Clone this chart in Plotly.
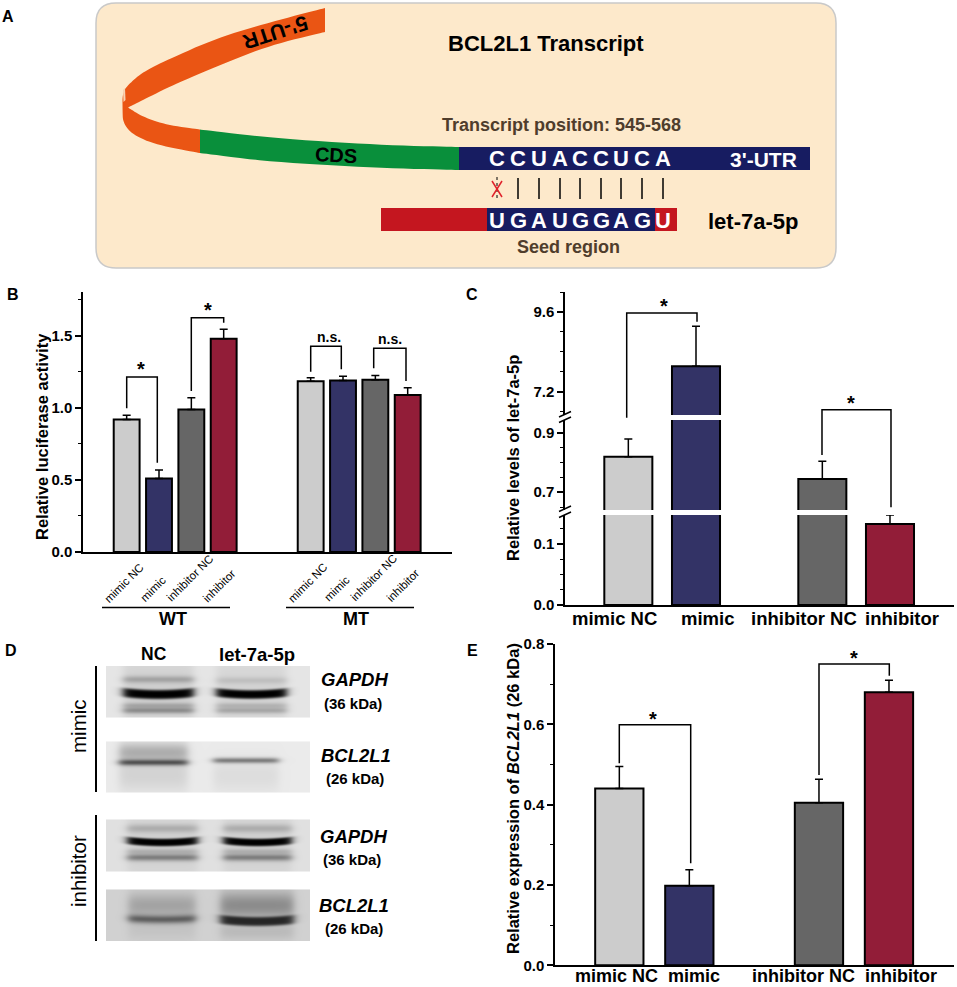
import numpy as np
import plotly.graph_objects as go

W, H = 957, 987

BLACK = "#000000"
BROWN = "#4f3d2c"
NAVY = "#171c61"
RED = "#c4161f"
ORANGE = "#ea5514"
GREEN = "#098f3b"
BAR_COLORS = ["#cccccc", "#333366", "#666666", "#921d38"]

# panel B
B_POS = [1, 2, 3, 4, 6.69, 7.69, 8.69, 9.69]
B_VALUES = [0.92, 0.51, 0.99, 1.48, 1.185, 1.19, 1.195, 1.09]
B_ERRORS = [0.03, 0.06, 0.08, 0.066, 0.025, 0.03, 0.03, 0.05]
B_COLORS = BAR_COLORS * 2
B_LABELS = ["mimic NC", "mimic", "inhibitor NC", "inhibitor"]

# panel C
C_POS = [1, 2, 3.867, 4.867]
C_VALUES = [0.82, 7.97, 0.745, 0.133]
C_ERRORS = [0.06, 1.2, 0.06, 0.015]

# panel E
E_POS = [1, 2, 3.852, 4.852]
E_VALUES = [0.44, 0.198, 0.405, 0.68]
E_ERRORS = [0.055, 0.04, 0.058, 0.03]

GROUP_LABELS = ["mimic NC", "mimic", "inhibitor NC", "inhibitor"]

# panel A
TARGET_SEQ = list("CCUACCUCA")
MIRNA_SEQ = list("UGAUGGAGU")
SEQ_X = [497, 518, 539, 560, 580, 601, 621, 642, 663]


def px(x):
    return x / W


def py(y):
    return 1 - y / H


def path_from(points, close=True):
    parts = [f"{'M' if i == 0 else 'L'}{px(x):.5f},{py(y):.5f}" for i, (x, y) in enumerate(points)]
    return " ".join(parts) + (" Z" if close else "")


def smooth(points, rounds=3):
    # corner cutting so the ribbon edges do not look polygonal
    pts = list(points)
    for _ in range(rounds):
        out = [pts[0]]
        for a, b in zip(pts[:-1], pts[1:]):
            out.append((0.75 * a[0] + 0.25 * b[0], 0.75 * a[1] + 0.25 * b[1]))
            out.append((0.25 * a[0] + 0.75 * b[0], 0.25 * a[1] + 0.75 * b[1]))
        out.append(pts[-1])
        pts = out
    return pts


shapes = []
notes = []


def poly(points, fill, line=None, width=0):
    shapes.append(dict(type="path", xref="paper", yref="paper", path=path_from(points),
                       fillcolor=fill, line=dict(color=line or fill, width=width)))


def seg(x0, y0, x1, y1, color=BLACK, width=1.5, dash="solid"):
    shapes.append(dict(type="line", xref="paper", yref="paper",
                       x0=px(x0), y0=py(y0), x1=px(x1), y1=py(y1),
                       line=dict(color=color, width=width, dash=dash)))


def rect(x0, y0, x1, y1, fill):
    shapes.append(dict(type="rect", xref="paper", yref="paper",
                       x0=px(x0), y0=py(y0), x1=px(x1), y1=py(y1),
                       fillcolor=fill, line=dict(width=0)))


def bracket(xl, xr, top, yl, yr):
    shapes.append(dict(type="path", xref="paper", yref="paper",
                       path=path_from([(xl, yl), (xl, top), (xr, top), (xr, yr)], close=False),
                       line=dict(color=BLACK, width=1.5)))


def note(text, x, y, size=15, color=BLACK, weight=700, angle=0, style="normal"):
    notes.append(dict(text=text, xref="paper", yref="paper", x=px(x), y=py(y),
                      xanchor="center", yanchor="middle", showarrow=False, textangle=angle,
                      font=dict(family="Liberation Sans", size=size, color=color,
                                weight=weight, style=style)))


# ── Panel A: transcript schematic ────────────────────────────────────────────
r = 20
x0, x1, y0, y1 = 96, 836, 3, 268
shapes.append(dict(
    type="path", xref="paper", yref="paper", fillcolor="#fde9cb",
    line=dict(color="#c9c9c9", width=1.5),
    path=(f"M{px(x0 + r)},{py(y0)} L{px(x1 - r)},{py(y0)} Q{px(x1)},{py(y0)} {px(x1)},{py(y0 + r)} "
          f"L{px(x1)},{py(y1 - r)} Q{px(x1)},{py(y1)} {px(x1 - r)},{py(y1)} "
          f"L{px(x0 + r)},{py(y1)} Q{px(x0)},{py(y1)} {px(x0)},{py(y1 - r)} "
          f"L{px(x0)},{py(y0 + r)} Q{px(x0)},{py(y0)} {px(x0 + r)},{py(y0)} Z"),
))
outer_edge = [(325, 8), (271, 22), (217, 38), (167, 60), (143, 72), (130, 83), (122.5, 92), (122.5, 110),
              (123, 123), (133, 135), (157, 145), (200, 153)]
cusp_lower = [(200, 129.5), (167, 125), (143, 117), (128, 107.5)]
cusp_upper = [(128, 107.5), (143, 100), (173, 85), (220, 65), (271, 45), (325, 32)]
poly(smooth(outer_edge) + smooth(cusp_lower) + smooth(cusp_upper), ORANGE)
poly([(123, 90), (125, 88), (125.5, 100), (123.5, 102)], "#f8d3b4")
poly(smooth([(200, 129.5), (271, 138), (379, 145), (459, 147)]) +
     smooth([(459, 170), (379, 168), (271, 162), (200, 153)]), GREEN)
rect(459, 147, 810, 170, NAVY)
rect(381, 208, 677, 231, RED)
rect(487, 208, 655, 231, NAVY)

for letter, x in zip(TARGET_SEQ, SEQ_X):
    note(letter, x, 158, size=22, color="white")
for letter, x in zip(MIRNA_SEQ, SEQ_X):
    note(letter, x, 220, size=22, color="white")
for x in SEQ_X[1:]:
    seg(x, 178, x, 199, width=1.5)
seg(SEQ_X[0], 177, SEQ_X[0], 200, width=1, dash="dot")
seg(SEQ_X[0] - 5, 181, SEQ_X[0] + 5, 197, color="#e0202a", width=1.5)
seg(SEQ_X[0] + 5, 181, SEQ_X[0] - 5, 197, color="#e0202a", width=1.5)

note("BCL2L1 Transcript", 546, 44, size=22)
note("Transcript position: 545-568", 561, 125, size=18, color=BROWN)
note("5'-UTR", 276, 33, size=21, angle=162)
note("CDS", 336, 155, size=20, angle=3)
note("3'-UTR", 763, 159, size=21, color="white")
note("let-7a-5p", 753, 221, size=22)
note("Seed region", 568, 247, size=18, color=BROWN)

# ── Panel letters ────────────────────────────────────────────────────────────
for letter, x, y in [("A", 8, 16), ("B", 13, 294), ("C", 472, 294), ("D", 11, 650), ("E", 472, 650)]:
    note(letter, x, y, size=16)

# ── Panel B annotations ──────────────────────────────────────────────────────
bracket(126.7, 157.3, 377, 408.3, 462.7)
bracket(191.3, 223.7, 317.7, 391, 322.7)
bracket(310.7, 341.3, 346.3, 371.7, 369.3)
bracket(373.7, 406, 348.3, 368.3, 381)
note("*", 141, 369, size=20)
note("*", 207.7, 310, size=20)
note("n.s.", 328.7, 337, size=14)
note("n.s.", 390, 339, size=14)
note("Relative luciferase activity", 42, 437, size=16.5, angle=-90)
label_x = [124, 153, 190, 219]
label_y = [583, 589, 578, 586]
for shift in (0, 183.5):
    for text, x, y in zip(B_LABELS, label_x, label_y):
        note(text, x + shift, y, size=11.5, weight=400, angle=-45)
seg(102, 607.5, 230, 607.5)
seg(286, 607.5, 414, 607.5)
note("WT", 173, 619, size=18)
note("MT", 356, 619, size=18)

# ── Panel C annotations ──────────────────────────────────────────────────────
bracket(626.7, 697, 313, 417.7, 321.7)
bracket(822, 891, 409.7, 455, 507.3)
note("*", 663.7, 306, size=20)
note("*", 851, 403, size=20)
note("Relative levels of let-7a-5p", 513, 458, size=16.5, angle=-90)
for text, x in zip(GROUP_LABELS, [614, 707, 804, 902]):
    note(text, x, 618, size=18.5)
for ytop in (411.5, 417, 506, 512):
    seg(559, ytop + 5.5, 571, ytop, width=1.5)

# ── Panel E annotations ──────────────────────────────────────────────────────
bracket(619.3, 690.7, 724.7, 763.3, 863.3)
bracket(819, 889.3, 664, 775, 675.7)
note("*", 653.3, 719, size=20)
note("*", 853.7, 658, size=20)
note("Relative expression of <i>BCL2L1</i> (26 kDa)", 513, 799, size=16.5, angle=-90)
for text, x in zip(GROUP_LABELS, [616, 694, 803, 901]):
    note(text, x, 976, size=18)

# ── Panel D labels ───────────────────────────────────────────────────────────
note("NC", 154, 654, size=17.5)
note("let-7a-5p", 257, 654, size=18.5)
seg(96, 666, 96, 792, width=2)
seg(96, 815, 96, 941, width=2)
note("mimic", 78, 726, size=20.5, weight=400, angle=-90)
note("inhibitor", 78, 871, size=20.5, weight=400, angle=-90)
for name, x, y in [("GAPDH", 354, 679), ("BCL2L1", 356, 755), ("GAPDH", 353, 836), ("BCL2L1", 354, 905)]:
    note(name, x, y, size=18.5, style="italic")
for name, x, y in [("(36 kDa)", 353, 703), ("(26 kDa)", 355, 778), ("(36 kDa)", 352, 859), ("(26 kDa)", 354, 928)]:
    note(name, x, y, size=15)


def blot(top, bottom, bg, bands):
    # the blots are photographs, so they are painted as soft grey bands
    xs = np.arange(106, 311)
    ys = np.arange(top, bottom + 1)
    gx, gy = np.meshgrid(xs, ys)
    z = np.full(gx.shape, bg, dtype=float)
    for xl, xr, yc, sigma, dark, power, curve in bands:
        edge = 1 / (1 + np.exp((xl - gx) / 2.5)) * 1 / (1 + np.exp((gx - xr) / 2.5))
        u = (gx - (xl + xr) / 2) / ((xr - xl) / 2)
        d = np.abs(gy - (yc - curve * u ** 2)) / sigma
        z *= 1 - dark * np.exp(-(d ** power) / 2) * edge
    return go.Heatmap(x=xs, y=ys, z=z, zmin=0, zmax=1, showscale=False, hoverinfo="skip",
                      colorscale=[[0, "#000000"], [1, "#ffffff"]], xaxis="x4", yaxis="y6")


BLOTS = [
    (666, 717, 0.90, [(123, 193, 692, 30, 0.1, 2, 0), (123, 193, 679, 2.5, 0.22, 2, 0), (123, 193, 694, 4, 1.0, 4, 2),
                      (123, 193, 705, 2, 0.2, 2, 0), (123, 193, 710, 2.2, 0.33, 2, 0),
                      (216, 286, 692, 30, 0.08, 2, 0), (216, 286, 680, 2.5, 0.1, 2, 0), (216, 286, 694, 3.8, 1.0, 4, 2),
                      (216, 286, 705, 2, 0.15, 2, 0), (216, 286, 710, 2.2, 0.22, 2, 0)]),
    (742, 792, 0.92, [(119, 187, 752, 7, 0.25, 2, 0), (119, 187, 762, 2.2, 0.6, 2, 0), (119, 187, 775, 12, 0.1, 2, 0),
                      (213, 278, 760, 2, 0.45, 2, 0), (213, 278, 775, 12, 0.06, 2, 0)]),
    (820, 871, 0.88, [(127, 197, 845, 30, 0.07, 2, 0), (127, 197, 828, 3, 0.18, 2, 0), (127, 197, 842, 3.3, 1.0, 4, 2),
                      (127, 197, 851, 2, 0.15, 2, 0), (127, 197, 857, 2.5, 0.4, 2, 0),
                      (223, 291, 845, 30, 0.07, 2, 0), (223, 291, 828, 3, 0.18, 2, 0), (223, 291, 842, 3.3, 1.0, 4, 2),
                      (223, 291, 851, 2, 0.15, 2, 0), (223, 291, 857, 2.5, 0.4, 2, 0)]),
    (890, 941, 0.82, [(128, 195, 905, 9, 0.22, 2, 0), (128, 195, 919, 3, 0.5, 2, 1), (128, 195, 930, 8, 0.06, 2, 0),
                      (220, 293, 905, 10, 0.33, 2, 0), (220, 293, 921, 4, 0.8, 4, 2), (220, 293, 932, 6, 0.1, 2, 0)]),
]


def bars(pos, values, errors, colors, width, xaxis, yaxis):
    return go.Bar(x=pos, y=values, width=width, xaxis=xaxis, yaxis=yaxis, showlegend=False,
                  marker=dict(color=colors, line=dict(color=BLACK, width=2)),
                  error_y=dict(type="data", array=errors, arrayminus=[0] * len(errors),
                               color=BLACK, thickness=1.5, width=4))


fig = go.Figure()
fig.add_trace(bars(B_POS, B_VALUES, B_ERRORS, B_COLORS, 0.8, "x", "y"))
for yaxis in ("y2", "y3", "y4"):
    fig.add_trace(bars(C_POS, C_VALUES, C_ERRORS, BAR_COLORS, 0.71, "x2", yaxis))
fig.add_trace(bars(E_POS, E_VALUES, E_ERRORS, BAR_COLORS, 0.69, "x3", "y5"))
for top, bottom, bg, bands in BLOTS:
    fig.add_trace(blot(top, bottom, bg, bands))

TICK_FONT = dict(family="Liberation Sans", size=15, color=BLACK, weight=700)


def y_axis(anchor, top, bottom, y_range, minor_step, **kw):
    return dict(anchor=anchor, domain=[py(bottom), py(top)], range=y_range, showgrid=False, zeroline=False,
                showline=True, linecolor=BLACK, linewidth=1.5, ticks="outside", ticklen=6, tickwidth=1.5,
                tickcolor=BLACK, tickfont=TICK_FONT, tickformat=".1f",
                minor=dict(dtick=minor_step, ticks="outside", ticklen=3.5, tickwidth=1.2,
                           tickcolor=BLACK, showgrid=False, tick0=kw.pop("minor_start", 0)), **kw)


def x_axis(anchor, left, right, x_range):
    return dict(anchor=anchor, domain=[px(left), px(right)], range=x_range, showgrid=False, zeroline=False,
                showline=True, linecolor=BLACK, linewidth=1.5, ticks="", showticklabels=False)


fig.update_layout(
    width=W, height=H, margin=dict(l=0, r=0, t=0, b=0, autoexpand=False), autosize=False,
    paper_bgcolor="white", plot_bgcolor="rgba(0,0,0,0)", barmode="overlay", showlegend=False,
    shapes=shapes, annotations=notes,
    xaxis=x_axis("y", 83, 452, [-0.35, 11.06]),
    yaxis=y_axis("x", 292, 552, [0, 1.805], 0.25, dtick=0.5, tick0=0),
    xaxis2=x_axis("y2", 565, 954, [0.064, 5.813]),
    yaxis2=y_axis("x2", 515, 605, [0, 0.148], 0.025, tickvals=[0, 0.1]),
    yaxis3=y_axis("x2", 420, 510, [0.64, 0.944], 0.05, tickvals=[0.7, 0.9], minor_start=0.7),
    yaxis4=y_axis("x2", 292, 415, [6.5, 10.2], 0.6, tickvals=[7.2, 9.6], minor_start=7.2),
    xaxis3=x_axis("y5", 555, 954, [0.081, 5.781]),
    yaxis5=y_axis("x3", 644, 965.3, [0, 0.8], 0.1, dtick=0.2, tick0=0),
    xaxis4=dict(anchor="y6", domain=[px(106), px(310)], range=[106, 310], visible=False),
    yaxis6=dict(anchor="x4", domain=[py(941), py(666)], range=[941, 666], visible=False),
)

fig.write_html("out.html", config=dict(displayModeBar=False),
               post_script="document.body.style.margin='0';document.body.style.overflow='hidden';")
